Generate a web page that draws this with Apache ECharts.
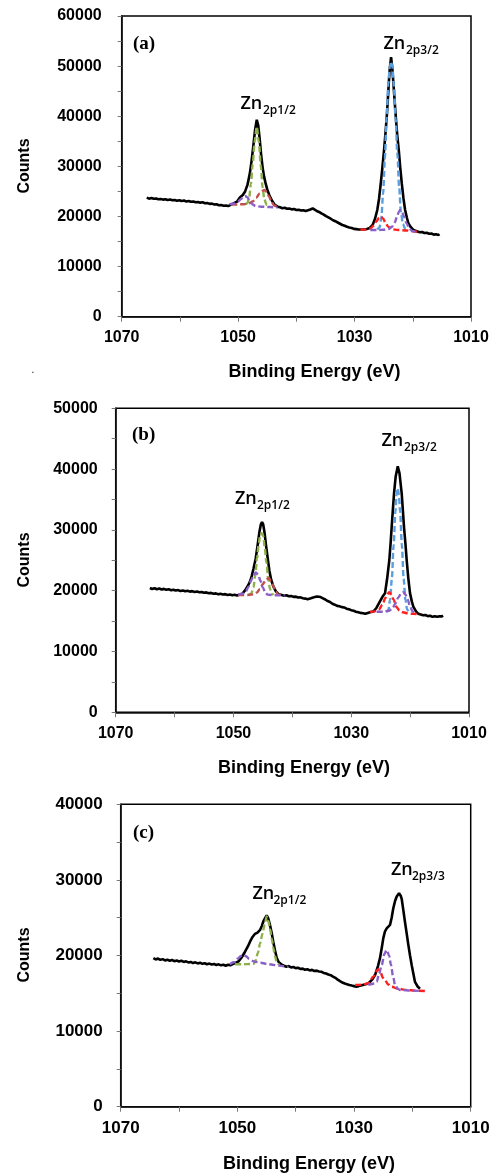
<!DOCTYPE html>
<html><head><meta charset="utf-8">
<script src="https://cdn.jsdelivr.net/npm/echarts@6/dist/echarts.min.js"></script>
<style>html,body{margin:0;padding:0;background:#fff}#c{width:497px;height:1175px}</style>
</head><body><div id="c"></div>
<script>
// ---------- data (Binding energy eV, Counts) ----------
const xTickLabels = [1070, 1050, 1030, 1010];
const yMaxA = 60000, yMaxB = 50000, yMaxC = 40000;

const aData = [
[1065.7,23750],[1065.3,23550],[1064.9,23680],[1064.5,23520],[1064.1,23600],[1063.7,23430],[1063.3,23500],[1062.9,23360],[1062.5,23450],[1062.1,23300],[1061.7,23380],[1061.3,23220],[1060.9,23300],[1060.5,23150],[1060.1,23250],[1059.7,23080],[1059.3,23170],[1058.9,23000],[1058.5,23080],[1058.1,22920],[1057.7,23000],[1057.3,22850],[1056.9,22900],[1056.5,22760],[1056.1,22820],[1055.7,22650],[1055.3,22700],[1054.9,22520],[1054.5,22560],[1054.1,22380],[1053.7,22420],[1053.3,22250],[1052.9,22300],[1052.5,22150],[1052.1,22200],[1051.7,22080],[1051.4,22450],
[1050.8,22600],[1050.2,22950],[1049.7,23800],[1049.2,24300],[1048.8,25000],[1048.4,26300],[1048.0,28500],[1047.7,31000],[1047.4,34000],[1047.1,37200],[1046.8,39300],[1046.55,38200],[1046.3,35500],[1046.05,32300],[1045.8,29800],[1045.55,28000],[1045.3,26700],[1045.0,25400],[1044.6,24100],[1044.2,23200],[1043.7,22300],[1043.2,21950],
[1042.8,21830],[1042.4,21650],[1042.0,21750],[1041.6,21550],[1041.2,21600],[1040.8,21420],[1040.4,21480],[1040.0,21300],[1039.6,21350],[1039.2,21200],[1038.8,21250],[1038.4,21100],[1038.0,21250],[1037.6,21400],[1037.2,21600],[1036.9,21450],[1036.5,21100],[1036.1,20900],[1035.7,20600],[1035.3,20350],[1034.9,20050],[1034.5,19800],[1034.1,19550],[1033.7,19250],[1033.3,19050],[1032.9,18800],[1032.5,18550],[1032.1,18300],[1031.7,18150],[1031.3,17950],[1030.9,17800],[1030.5,17700],[1030.1,17520],[1029.7,17480],[1029.3,17400],[1029.0,17430],
[1028.4,17420],[1027.9,17500],[1027.4,17700],[1026.9,18300],[1026.5,19500],[1026.1,21300],[1025.8,23500],[1025.5,26600],[1025.2,30000],[1024.93,33300],[1024.7,36500],[1024.47,39900],[1024.3,43000],[1024.12,46600],[1023.95,49500],[1023.73,51800],[1023.55,50000],[1023.33,46600],[1023.1,42800],[1022.92,39900],[1022.65,36000],[1022.41,33300],[1022.15,29700],[1021.89,26600],[1021.6,23600],[1021.32,21300],[1021.0,19700],[1020.75,18600],[1020.3,17800],[1019.9,17300],[1019.6,17200],
[1019.2,17000],[1018.8,16850],[1018.4,16900],[1018.0,16700],[1017.6,16750],[1017.2,16550],[1016.8,16600],[1016.4,16380],[1016.0,16450],[1015.6,16300],[1015.4,16450]
];
const aGreen = [[1048.7,22400],[1048.4,22700],[1048.1,23800],[1047.8,26500],[1047.5,30500],[1047.15,35000],[1046.8,37900],[1046.45,35000],[1046.1,30000],[1045.8,25800],[1045.5,23400],[1045.1,22300],[1044.7,22000]];
const aRed1 = [[1051.2,22400],[1050.0,22400],[1049.0,22450],[1048.2,22600],[1047.5,23000],[1046.9,23700],[1046.3,24600],[1045.9,25100],[1045.5,25300],[1045.1,24900],[1044.7,24000],[1044.3,23000],[1043.8,22200],[1043.2,21750]];
const aPurple1 = [[1051.5,22450],[1050.6,22600],[1050.0,23000],[1049.5,23500],[1049.1,23950],[1048.8,24100],[1048.4,23800],[1048.0,23100],[1047.5,22400],[1047.0,22100],[1046.0,21950],[1045.0,21900],[1044.0,21850],[1043.2,21800]];
const aBlue = [[1026.1,17400],[1025.7,17800],[1025.4,19800],[1025.1,24500],[1024.8,31500],[1024.5,39500],[1024.2,46500],[1023.95,49800],[1023.73,50900],[1023.5,49800],[1023.25,46000],[1022.95,39500],[1022.65,32500],[1022.35,26000],[1022.05,21000],[1021.7,18500],[1021.3,17500],[1020.9,17250]];
const aRed2 = [[1029.0,17350],[1028.0,17400],[1027.3,17600],[1026.7,18200],[1026.2,19100],[1025.8,19750],[1025.5,19950],[1025.1,19600],[1024.7,18800],[1024.2,17900],[1023.6,17450],[1022.5,17300],[1021.0,17200],[1020.0,17050],[1019.3,16950]];
const aPurple2 = [[1027.3,17300],[1026.0,17300],[1025.0,17350],[1024.2,17500],[1023.6,17900],[1023.1,18800],[1022.7,20000],[1022.4,20900],[1022.18,21290],[1021.9,21000],[1021.5,20000],[1021.1,18700],[1020.6,17600],[1020.1,17100],[1019.6,16950]];

const bData = [
[1064.2,20450],[1063.8,20280],[1063.4,20400],[1063.0,20230],[1062.6,20350],[1062.2,20200],[1061.8,20300],[1061.4,20150],[1061.0,20250],[1060.6,20080],[1060.2,20170],[1059.8,20020],[1059.4,20100],[1059.0,19950],[1058.6,20050],[1058.2,19900],[1057.8,19980],[1057.4,19850],[1057.0,19930],[1056.6,19800],[1056.2,19880],[1055.8,19750],[1055.4,19800],[1055.0,19650],[1054.6,19720],[1054.2,19580],[1053.8,19640],[1053.4,19500],[1053.0,19560],[1052.6,19420],[1052.2,19480],[1051.8,19380],[1051.4,19440],[1051.0,19300],[1050.6,19380],[1050.2,19250],[1049.8,19330],[1049.4,19220],
[1049.0,19350],[1048.5,19500],[1048.0,20100],[1047.5,20900],[1047.2,21500],[1046.9,22400],[1046.6,23600],[1046.22,25300],[1045.9,27500],[1045.6,29600],[1045.35,30900],[1045.15,31300],[1044.95,30900],[1044.7,29400],[1044.45,27300],[1044.18,25300],[1043.9,23300],[1043.6,21800],[1043.23,20700],[1042.8,19900],[1042.3,19400],
[1041.8,19300],[1041.4,19180],[1041.0,19250],[1040.6,19080],[1040.2,19120],[1039.8,18980],[1039.4,19020],[1039.0,18880],[1038.6,18900],[1038.2,18760],[1037.8,18700],[1037.4,18600],[1037.0,18700],[1036.6,18850],[1036.2,18950],[1035.8,19050],[1035.5,19150],[1035.2,18950],[1034.8,18750],[1034.4,18550],[1034.0,18300],[1033.6,18150],[1033.2,17850],[1032.8,17700],[1032.4,17500],[1032.0,17450],[1031.6,17300],[1031.2,17250],[1030.8,17050],[1030.4,16950],[1030.0,16800],[1029.6,16700],[1029.2,16550],[1028.8,16450],[1028.4,16350],[1028.0,16300],[1027.6,16200],[1027.3,16100],
[1026.8,16450],[1026.2,16600],[1025.7,17200],[1025.1,18300],[1024.7,19000],[1024.26,19600],[1023.9,22000],[1023.53,25050],[1023.3,28000],[1023.13,30500],[1022.93,33300],[1022.73,36000],[1022.45,38800],[1022.1,40450],[1021.8,39300],[1021.6,37500],[1021.43,36000],[1021.04,30500],[1020.8,27800],[1020.58,25000],[1020.3,22000],[1020.02,19600],[1019.7,18200],[1019.46,17400],[1019.0,16600],[1018.6,16200],
[1018.2,16080],[1017.8,15950],[1017.4,16000],[1017.0,15820],[1016.6,15880],[1016.2,15700],[1015.8,15800],[1015.4,15720],[1015.0,15800],[1014.6,15780],[1014.4,15900]
];
const bGreen = [[1047.4,19350],[1047.0,19500],[1046.6,20500],[1046.3,22500],[1046.0,25300],[1045.7,27800],[1045.45,29200],[1045.2,29450],[1044.95,29000],[1044.7,27200],[1044.4,24600],[1044.1,22000],[1043.8,20300],[1043.5,19500],[1043.2,19300]];
const bPurple1 = [[1049.2,19350],[1048.5,19500],[1047.9,19900],[1047.4,20700],[1047.0,21700],[1046.6,22600],[1046.2,23000],[1045.8,22600],[1045.4,21600],[1045.0,20500],[1044.6,19700],[1044.2,19350],[1043.0,19250],[1041.3,19200]];
const bRed1 = [[1049.2,19300],[1047.5,19300],[1046.6,19400],[1046.0,19700],[1045.5,20300],[1045.0,21100],[1044.5,21800],[1044.0,22050],[1043.6,21600],[1043.2,20700],[1042.8,19800],[1042.4,19350],[1041.8,19250]];
const bBlue = [[1024.0,16500],[1023.7,16800],[1023.4,18500],[1023.1,22000],[1022.8,27500],[1022.5,33000],[1022.3,35800],[1022.1,36850],[1021.9,35800],[1021.7,33000],[1021.4,27500],[1021.1,22000],[1020.8,18500],[1020.5,16900],[1020.2,16400]];
const bRed2 = [[1026.8,16500],[1026.0,16600],[1025.3,16900],[1024.7,17700],[1024.2,18800],[1023.8,19500],[1023.53,19750],[1023.2,19400],[1022.8,18500],[1022.3,17300],[1021.8,16700],[1021.2,16450],[1020.5,16300],[1019.5,16200],[1018.3,16100]];
const bPurple2 = [[1025.7,16550],[1024.5,16550],[1023.6,16700],[1023.0,17100],[1022.5,17900],[1022.0,18900],[1021.5,19600],[1021.15,19750],[1020.8,19400],[1020.4,18500],[1020.0,17400],[1019.6,16600],[1019.2,16250]];

const cData = [
[1064.4,19650],[1064.0,19480],[1063.6,19600],[1063.2,19420],[1062.8,19520],[1062.4,19350],[1062.0,19450],[1061.6,19300],[1061.2,19400],[1060.8,19250],[1060.4,19330],[1060.0,19200],[1059.6,19300],[1059.2,19150],[1058.8,19230],[1058.4,19080],[1058.0,19150],[1057.6,19000],[1057.2,19100],[1056.8,18950],[1056.4,19050],[1056.0,18900],[1055.6,18980],[1055.2,18850],[1054.8,18930],[1054.4,18800],[1054.0,18880],[1053.6,18750],[1053.2,18830],[1052.8,18700],[1052.4,18780],[1052.0,18650],[1051.6,18780],[1051.2,18700],
[1050.8,18850],[1050.4,19000],[1049.84,19200],[1049.3,19700],[1048.69,20500],[1048.2,21200],[1047.83,21830],[1047.4,22450],[1047.0,22850],[1046.6,23000],[1046.1,23400],[1045.8,23900],[1045.55,24500],[1045.2,25000],[1044.97,25300],[1044.7,24900],[1044.4,24000],[1044.1,22900],[1043.84,21800],[1043.55,20700],[1043.26,19700],[1042.9,19100],[1042.4,18800],
[1042.0,18650],[1041.6,18520],[1041.2,18600],[1040.8,18420],[1040.4,18480],[1040.0,18330],[1039.6,18380],[1039.2,18220],[1038.8,18260],[1038.4,18120],[1038.0,18180],[1037.6,18030],[1037.2,18100],[1036.8,17950],[1036.4,18000],[1036.0,17880],[1035.6,17850],[1035.2,17700],[1034.8,17620],[1034.4,17480],[1034.0,17400],[1033.6,17220],[1033.2,17050],[1032.8,16800],[1032.4,16600],[1032.0,16420],[1031.6,16300],[1031.2,16200],[1030.8,16100],[1030.4,16020],[1030.0,15950],[1029.6,15880],[1029.2,15950],[1028.9,16000],
[1028.5,16100],[1027.55,16300],[1026.9,16800],[1026.4,17400],[1025.9,18600],[1025.55,19650],[1025.25,21000],[1024.98,22300],[1024.69,23200],[1024.4,23600],[1023.83,24050],[1023.55,25000],[1023.27,26250],[1022.97,27200],[1022.68,27800],[1022.29,28250],[1022.0,27900],[1021.83,27500],[1021.55,26000],[1021.26,24400],[1020.97,22900],[1020.69,21400],[1020.4,20000],[1020.11,18700],[1019.8,17500],[1019.55,16500],[1019.1,15900],[1018.69,15600]
];
const cGreen = [[1050.4,18850],[1049.0,18850],[1047.8,18870],[1047.2,18900],[1046.9,19300],[1046.5,20300],[1046.1,21600],[1045.7,22900],[1045.3,24200],[1044.97,25150],[1044.7,24600],[1044.4,23500],[1044.1,22200],[1043.84,21000],[1043.55,19900],[1043.26,19100],[1042.9,18800]];
const cPurple1 = [[1051.3,18850],[1050.5,19150],[1049.9,19600],[1049.4,19950],[1049.0,20080],[1048.5,19900],[1048.0,19550],[1047.5,19300],[1046.98,19180],[1046.0,19050],[1045.0,18900],[1044.0,18780],[1043.0,18680],[1042.0,18580],[1041.27,18520]];
const cRed2 = [[1029.8,16100],[1028.5,16150],[1027.55,16320],[1026.69,17200],[1026.2,17900],[1025.84,18200],[1025.5,17800],[1025.0,17000],[1024.69,16760],[1024.2,16200],[1023.54,15870],[1022.5,15600],[1021.0,15450],[1019.5,15350],[1017.83,15300]];
const cPurple2 = [[1027.55,16100],[1026.5,16300],[1026.11,16530],[1025.7,17600],[1025.25,18740],[1024.8,20200],[1024.4,20730],[1024.0,20000],[1023.66,18740],[1023.3,17200],[1022.97,16100],[1022.5,15600],[1022.12,15440],[1020.0,15350],[1018.4,15300]];

const panelTags = ['(a)', '(b)', '(c)'];
const xTitle = 'Binding Energy (eV)';
const yTitle = 'Counts';

// ---------- styling / layout ----------
const COL = {green:'#8db04a', brown:'#c0504d', red:'#ff1f1f', purple:'#8a5fc8', blue:'#5b9ee0'};
const panels = [
  {grid:{left:121.7, top:16, width:349.3, height:300.7}, ymax:yMaxA, fs:16, ym:20, data:aData,
   comps:[[aGreen,COL.green],[aRed1,COL.brown],[aPurple1,COL.purple],[aBlue,COL.blue],[aRed2,COL.red],[aPurple2,COL.purple]]},
  {grid:{left:115.7, top:408.3, width:353.3, height:304}, ymax:yMaxB, fs:16, ym:18, data:bData,
   comps:[[bGreen,COL.green],[bRed1,COL.brown],[bPurple1,COL.purple],[bBlue,COL.blue],[bRed2,COL.red],[bPurple2,COL.purple]]},
  {grid:{left:120.7, top:804.3, width:350, height:302.4}, ymax:yMaxC, fs:17, ym:18, data:cData,
   comps:[[cGreen,COL.green],[cPurple1,COL.purple],[cRed2,COL.red],[cPurple2,COL.purple]]}
];
const LBL = {fontFamily:'Liberation Sans, Arial, sans-serif', fontWeight:'bold', color:'#000'};

const grids = [], xAxes = [], yAxes = [], series = [];
panels.forEach((p, i) => {
  grids.push(Object.assign({show:true, borderColor:'#000', borderWidth:1.5, containLabel:false}, p.grid));
  xAxes.push({type:'value', gridIndex:i, min:1010, max:1070, interval:10, inverse:true,
    axisLine:{show:true, onZero:false, lineStyle:{color:'#111', width:1.5}},
    axisTick:{show:true, length:5, lineStyle:{color:'#777'}},
    splitLine:{show:false},
    axisLabel:Object.assign({fontSize:p.fs, margin:13, showMinLabel:true, showMaxLabel:true,
      formatter:v => xTickLabels.indexOf(Math.round(v)) >= 0 ? String(Math.round(v)) : ''}, LBL)});
  yAxes.push({type:'value', gridIndex:i, min:0, max:p.ymax, interval:10000,
    axisLine:{show:true, onZero:false, lineStyle:{color:'#111', width:1.5}},
    axisTick:{show:true, length:4, lineStyle:{color:'#777'}},
    minorTick:{show:true, splitNumber:2, length:4, lineStyle:{color:'#777'}},
    splitLine:{show:false},
    axisLabel:Object.assign({fontSize:p.fs, margin:p.ym, showMinLabel:true, showMaxLabel:true,
      formatter:v => String(Math.round(v))}, LBL)});
  series.push({type:'line', xAxisIndex:i, yAxisIndex:i, data:p.data, symbol:'none', showSymbol:false,
    lineStyle:{color:'#000', width:2.6}, z:2, silent:true});
  p.comps.forEach(([d, c]) => {
    series.push({type:'line', xAxisIndex:i, yAxisIndex:i, data:d, symbol:'none', showSymbol:false,
      smooth:0.3, smoothMonotone:'x', lineStyle:{color:c, width:2.4, type:[6,3]}, z:3, silent:true});
  });
});

function txt(x, y, text, font, opts) {
  opts = opts || {};
  return {type:'text', x:x, y:y, rotation:opts.rot || 0, z:10,
    style:{text:text, font:font, fill:'#000', align:opts.align || 'left', verticalAlign:'middle',
           textAlign:opts.align || 'left', textVerticalAlign:'middle'}};
}
const SERIF = 'bold 19px "Liberation Serif", "Times New Roman", serif';
const ZN = '600 18px "Open Sans", "Noto Sans", sans-serif';
const SUB = '600 12px "Open Sans", "Noto Sans", sans-serif';
const TITLE = 'bold 18px "Liberation Sans", Arial, sans-serif';
const CNT = 'bold 16px "Liberation Sans", Arial, sans-serif';
const graphics = [
  txt(133, 44, panelTags[0], SERIF),
  txt(132, 435, panelTags[1], SERIF),
  txt(133, 833, panelTags[2], SERIF),
  txt(240.5, 104, 'Zn', ZN), txt(263, 111, '2p1/2', SUB),
  txt(383.5, 44, 'Zn', ZN), txt(406, 51, '2p3/2', SUB),
  txt(235, 499, 'Zn', ZN), txt(257, 506, '2p1/2', SUB),
  txt(381.5, 441, 'Zn', ZN), txt(404, 448, '2p3/2', SUB),
  txt(252.5, 894, 'Zn', ZN), txt(273.5, 901, '2p1/2', SUB),
  txt(391, 870, 'Zn', ZN), txt(412, 877, '2p3/3', SUB),
  txt(314.5, 372, xTitle, TITLE, {align:'center'}),
  txt(304, 768, xTitle, TITLE, {align:'center'}),
  txt(309, 1164, xTitle, TITLE, {align:'center'}),
  txt(24.5, 166, yTitle, CNT, {align:'center', rot:Math.PI/2}),
  txt(24.5, 560, yTitle, CNT, {align:'center', rot:Math.PI/2}),
  txt(24.5, 955, yTitle, CNT, {align:'center', rot:Math.PI/2}),
  txt(33, 370, '.', '10px sans-serif', {align:'center'})
];

const chart = echarts.init(document.getElementById('c'), null, {renderer:'canvas', width:497, height:1175});
chart.setOption({animation:false, backgroundColor:'#fff', grid:grids, xAxis:xAxes, yAxis:yAxes, series:series, graphic:graphics});
</script>
</body></html>
